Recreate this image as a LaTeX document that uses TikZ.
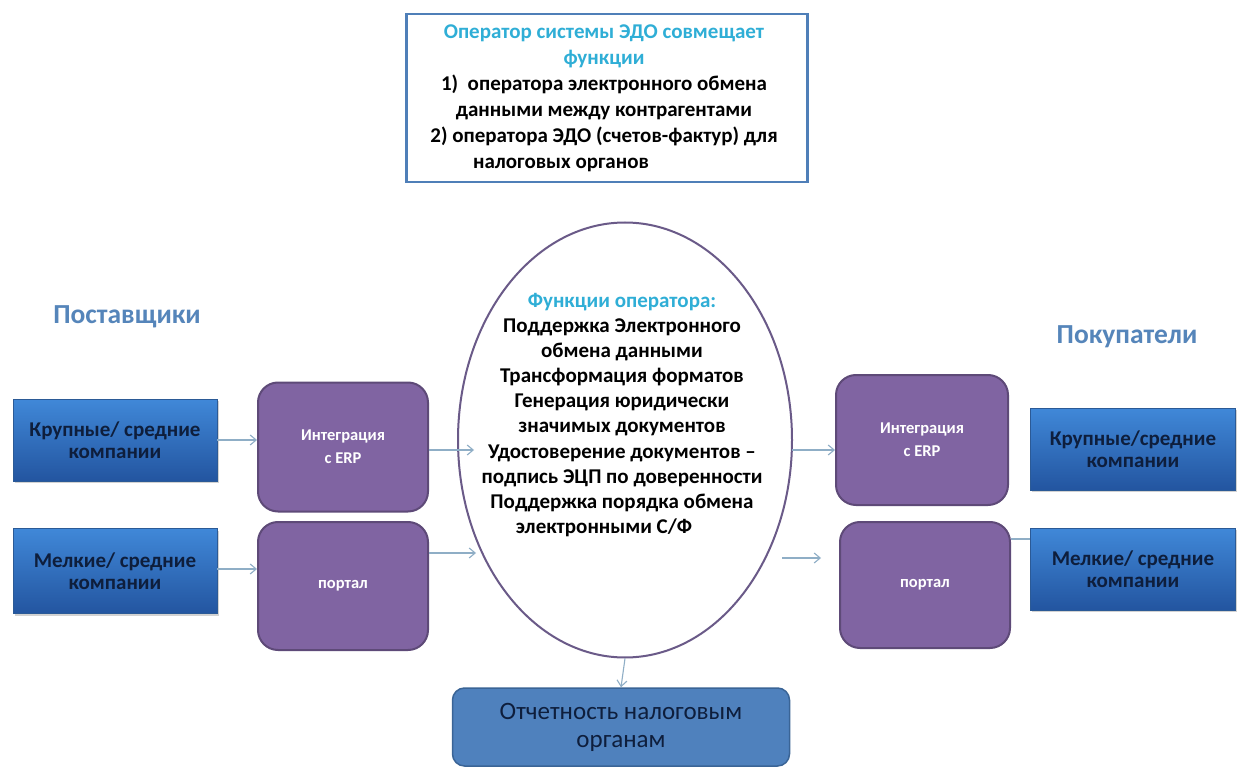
\documentclass[tikz,border=0pt]{standalone}
\usepackage{fontspec}
\setmainfont{Carlito}
\usetikzlibrary{arrows.meta,shapes.geometric,shadows}
\definecolor{titlecyan}{HTML}{2FAED6}
\definecolor{headblue}{HTML}{5585BA}
\definecolor{frameblue}{HTML}{4F7FB8}
\definecolor{boxtop}{HTML}{4088D8}
\definecolor{boxbot}{HTML}{2355A0}
\definecolor{boxline}{HTML}{2B5A96}
\definecolor{navytext}{HTML}{0E1E3C}
\definecolor{purplefill}{HTML}{8064A2}
\definecolor{purpleline}{HTML}{5E4A78}
\definecolor{ellline}{HTML}{6A5A88}
\definecolor{arrowcol}{HTML}{8FAEC6}
\definecolor{taxfill}{HTML}{4F81BD}
\definecolor{taxline}{HTML}{3A6496}
\tikzset{
  x=1pt, y=-1pt,
  companybox/.style={rectangle, top color=boxtop, bottom color=boxbot, draw=boxline, line width=0.8pt,
    drop shadow={opacity=0.35, shadow xshift=1.5pt, shadow yshift=-2pt},
    text=navytext, font=\bfseries\fontsize{21}{21.5}\selectfont, align=center, inner sep=0pt},
  purplebox/.style={rectangle, rounded corners=20pt, fill=purplefill, draw=purpleline, line width=2pt,
    text=white, font=\bfseries\fontsize{16.5}{23}\selectfont, align=center, inner sep=0pt},
  arr/.style={draw=arrowcol, line width=1.1pt, -{Straight Barb[length=6pt,width=10pt]}},
  plainline/.style={draw=arrowcol, line width=1.1pt},
  heading/.style={text=headblue, font=\bfseries\fontsize{27.5}{30}\selectfont},
}
\begin{document}
\begin{tikzpicture}
\useasboundingbox (0,0) rectangle (1240,767);
\fill[white] (0,0) rectangle (1240,767);

% top box
\node[draw=frameblue, line width=2.5pt, minimum width=401pt, minimum height=168pt, inner sep=0pt] (topbox) at (607,98) {};
\node[align=center, font=\bfseries\fontsize{21}{26}\selectfont, text=black] (toptext) at (604,98)
  {\textcolor{titlecyan}{Оператор системы ЭДО совмещает}\\
   \textcolor{titlecyan}{функции}\\
   1)\ \ оператора электронного обмена\\
   данными между контрагентами\\
   2) оператора ЭДО (счетов-фактур) для\\
   \hspace*{-86pt}налоговых органов};

% headings
\node[heading] (suppliers) at (127,317) {Поставщики};
\node[heading] (buyers) at (1127,337) {Покупатели};

% left company boxes
\node[companybox, minimum width=204pt, minimum height=82pt] (lb1) at (115,440) {Крупные/ средние\\компании};
\node[companybox, minimum width=204pt, minimum height=85pt] (lb2) at (115,571) {Мелкие/ средние\\компании};

% left purple
\node[purplebox, minimum width=170pt, minimum height=129pt] (lp1) at (343,447) {Интеграция\\ с ERP};
\node[purplebox, minimum width=170pt, minimum height=128pt] (lp2) at (343,586) {портал};

% ellipse
\node[ellipse, draw=ellline, line width=2pt, minimum width=334pt, minimum height=435pt, inner sep=0pt] (ell) at (625,440) {};
\node[align=center, font=\bfseries\fontsize{21}{25.1}\selectfont, text=black] (elltext) at (622,415)
  {\textcolor{titlecyan}{Функции оператора:}\\
   Поддержка Электронного\\
   обмена данными\\
   Трансформация форматов\\
   Генерация юридически\\
   значимых документов\\
   Удостоверение документов –\\
   подпись ЭЦП по доверенности\\
   Поддержка порядка обмена\\
   \hspace*{-36pt}электронными С/Ф};

% right purple
\node[purplebox, minimum width=172pt, minimum height=130pt] (rp1) at (922,440) {Интеграция\\ с ERP};
\node[purplebox, minimum width=170pt, minimum height=126pt] (rp2) at (925,585) {портал};

% right company boxes
\node[companybox, minimum width=205pt, minimum height=82pt] (rb1) at (1133,449) {Крупные/средние\\компании};
\node[companybox, minimum width=205pt, minimum height=82pt] (rb2) at (1133,569) {Мелкие/ средние\\компании};

% bottom box
\node[rectangle, rounded corners=12pt, fill=taxfill, draw=taxline, line width=1.5pt,
      minimum width=337pt, minimum height=78pt, inner sep=0pt, align=center,
      text=navytext, font=\fontsize{25}{28}\selectfont] (tax) at (621,727) {Отчетность налоговым\\органам};

% connectors
\coordinate (e1) at (474,450);
\coordinate (e2) at (476,553);
\coordinate (o1) at (792,450);
\coordinate (o2) at (782,558);
\draw[arr] (lb1.east) -- (lb1.east -| lp1.west);
\draw[arr] (lb2.east |- 0,569) -- (lp2.west |- 0,569);
\draw[arr] (lp1.east |- e1) -- (e1);
\draw[arr] (lp2.east |- e2) -- (e2);
\draw[arr] (o1) -- (rp1.west |- o1);
\draw[arr] (o2) -- ([xshift=-18pt]rp2.west |- o2);
\draw[plainline] (rp2.east |- 0,539) -- (rb2.west |- 0,539);
\draw[arr] (ell.south) -- (tax.north);
\end{tikzpicture}
\end{document}
